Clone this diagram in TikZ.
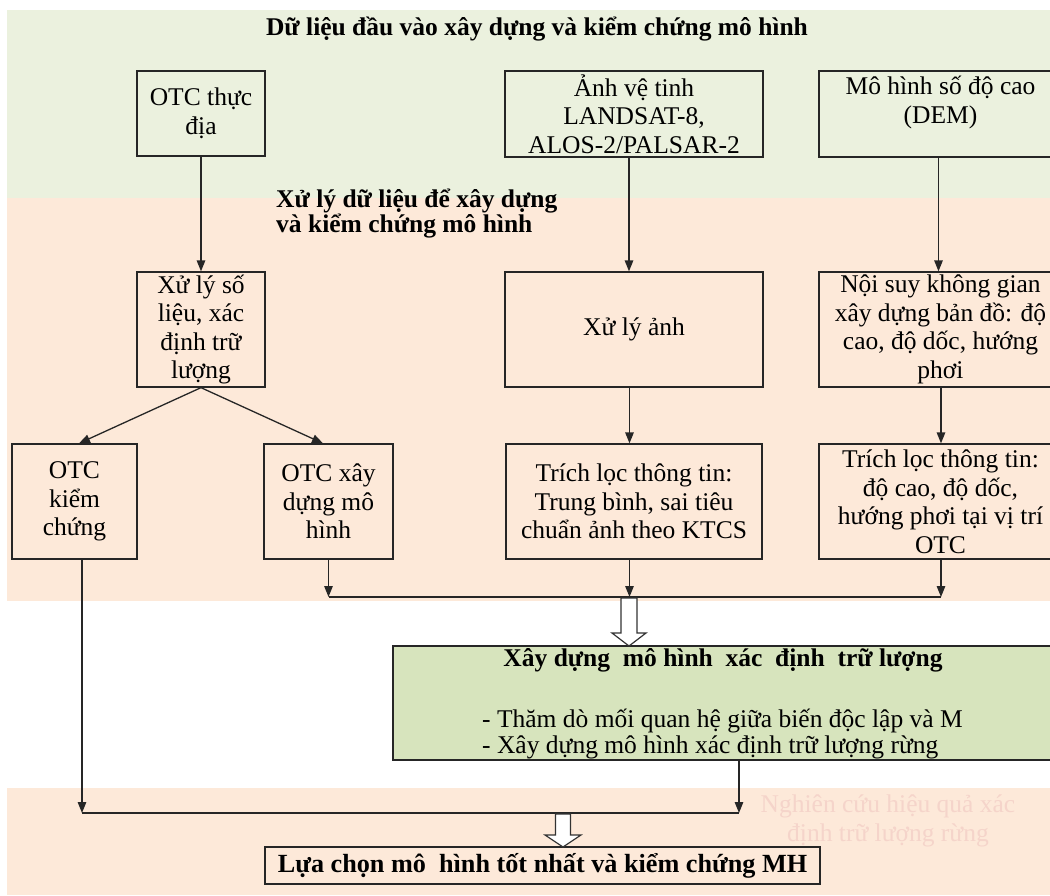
\documentclass[tikz,border=0pt]{standalone}
\usepackage{fontspec}
\setmainfont{Liberation Serif}
\usetikzlibrary{arrows.meta,calc}
\definecolor{bggreen}{HTML}{EBF1DE}
\definecolor{bgpeach}{HTML}{FDE9D9}
\definecolor{boxgreen}{HTML}{D7E4BD}
\definecolor{fadedtxt}{HTML}{F5D4CA}
\newcommand\bt{\fontsize{25.5}{28.5}\selectfont}
\newcommand\btb{\fontsize{25.5}{25}\selectfont\bfseries}
\newcommand\hollowarr[6]{\draw[barrow] (#1-#4,#2) -- (#1+#4,#2) -- (#1+#4,#3-#6) -- (#1+#5,#3-#6) -- (#1,#3) -- (#1-#5,#3-#6) -- (#1-#4,#3-#6) -- cycle;}
\begin{document}
\begin{tikzpicture}[x=1pt,y=-1pt,
  box/.style={draw=black!85, line width=1.3pt, align=center, inner sep=0pt, font=\bt},
  conn/.style={line width=1.3pt, draw=black!85},
  arr/.style={conn, -{Triangle[length=11pt,width=8.5pt]}},
  barrow/.style={draw=black!80, line width=1.2pt, fill=white},
  lbl/.style={inner sep=0pt, font=\btb}]
\useasboundingbox (0,0) rectangle (1050,895);
\fill[white] (0,0) rectangle (1050,895);
% background bands
\fill[bggreen] (7,10) rectangle (1050,198);
\fill[bgpeach] (7,198) rectangle (1050,601);
\fill[bgpeach] (7,788) rectangle (1050,895);

% labels
\node[lbl] (title) at (537,29) {Dữ liệu đầu vào xây dựng và kiểm chứng mô hình};
\node[lbl, anchor=west, align=left] (proc) at (276,214) {Xử lý dữ liệu để xây dựng\\và kiểm chứng mô hình};

% top row
\node[box, minimum width=128, minimum height=85] (otc) at (201,113.5) {OTC thực\\địa};
\node[box, minimum width=258, minimum height=86] (anh) at (634,114) {Ảnh vệ tinh\\LANDSAT-8,\\ALOS-2/PALSAR-2};
\node[box, minimum width=243, minimum height=86] (dem) at (940.5,114) {Mô hình số độ cao\\(DEM)\\\mbox{}};

% middle row
\node[box, minimum width=128, minimum height=115] (xls) at (201,329.5) {Xử lý số\\liệu, xác\\định trữ\\lượng};
\node[box, minimum width=258, minimum height=115] (xla) at (634,329.5) {Xử lý ảnh};
\node[box, minimum width=243, minimum height=115] (nsuy) at (940.5,329.5) {Nội suy không gian\\xây dựng bản đồ: độ\\cao, độ dốc, hướng\\phơi};

% lower row
\node[box, minimum width=125, minimum height=115] (kc) at (74.5,501.5) {OTC\\kiểm\\chứng};
\node[box, minimum width=129, minimum height=115] (xd) at (328.5,501.5) {OTC xây\\dựng mô\\hình};
\node[box, minimum width=256, minimum height=115] (tl1) at (634,501.5) {Trích lọc thông tin:\\Trung bình, sai tiêu\\chuẩn ảnh theo KTCS};
\node[box, minimum width=243, minimum height=115] (tl2) at (940.5,501.5) {Trích lọc thông tin:\\độ cao, độ dốc,\\hướng phơi tại vị trí\\OTC};

% model box
\node[box, fill=boxgreen, minimum width=660, minimum height=114] (xdmh) at (723,703) {};
\node[lbl] (xdmht) at (723,660) {Xây dựng~ mô hình~ xác~ định~ trữ lượng};
\node[inner sep=0pt, font=\fontsize{25.5}{26}\selectfont, anchor=west, align=left] (xdmhb) at (482,734) {- Thăm dò mối quan hệ giữa biến độc lập và M\\- Xây dựng mô hình xác định trữ lượng rừng};

% final box
\node[box, minimum width=555, minimum height=37, font=\fontsize{26.2}{26}\selectfont\bfseries] (lc) at (542.5,865.5) {Lựa chọn mô~ hình tốt nhất và kiểm chứng MH};

% faded text
\node[inner sep=0pt, font=\bt, text=fadedtxt, align=center] (faded) at (888,821) {Nghiên cứu hiệu quả xác\\định trữ lượng rừng};

% connectors top -> middle
\draw[arr] (otc.south) -- (xls.north);
\draw[arr] ([xshift=-5pt]anh.south) -- ([xshift=-5pt]xla.north);
\draw[arr] ([xshift=-2pt]dem.south) -- ([xshift=-2pt]nsuy.north);

% middle -> lower
\draw[arr] (xls.south) -- ([xshift=4.5pt]kc.north);
\draw[arr] (xls.south) -- ([xshift=-5.5pt]xd.north);
\draw[arr] ([xshift=-4.5pt]xla.south) -- ([xshift=-4.5pt]tl1.north);
\draw[arr] ([xshift=0.5pt]nsuy.south) -- ([xshift=0.5pt]tl2.north);

% merge line
\coordinate (mL) at (328.5,597);
\coordinate (mC) at (629.5,597);
\coordinate (mR) at (941,597);
\draw[arr] (xd.south) -- (mL);
\draw[arr] ([xshift=-4.5pt]tl1.south) -- (mC);
\draw[arr] ([xshift=0.5pt]tl2.south) -- (mR);
\draw[conn] (mL) -- (mR);
\hollowarr{629}{598}{646}{8}{17}{13}

% bottom merge
\coordinate (bL) at (82,813);
\coordinate (bR) at (739,813);
\draw[arr] ([xshift=7.5pt]kc.south) -- (bL);
\draw[arr] (xdmh.south -| bR) -- (bR);
\draw[conn] (bL) -- (bR);
\hollowarr{563}{814}{847}{7.5}{18}{12}
\end{tikzpicture}
\end{document}
